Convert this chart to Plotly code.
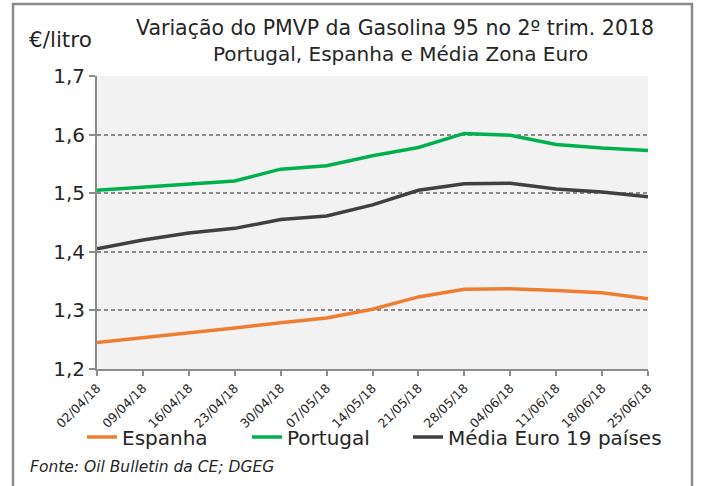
import plotly.graph_objects as go

dates = ["02/04/18", "09/04/18", "16/04/18", "23/04/18", "30/04/18", "07/05/18",
         "14/05/18", "21/05/18", "28/05/18", "04/06/18", "11/06/18", "18/06/18", "25/06/18"]
espanha = [1.245, 1.253, 1.261, 1.270, 1.279, 1.287, 1.302, 1.323, 1.336, 1.337, 1.334, 1.330, 1.320]
portugal = [1.505, 1.510, 1.515, 1.521, 1.541, 1.547, 1.564, 1.578, 1.602, 1.599, 1.583, 1.577, 1.573]
media = [1.405, 1.420, 1.432, 1.440, 1.455, 1.461, 1.480, 1.505, 1.516, 1.517, 1.507, 1.502, 1.494]
yticks = [1.2, 1.3, 1.4, 1.5, 1.6, 1.7]

FONT = "DejaVu Sans"
PW, PH = 551, 293

series = [("Espanha", espanha, "#ED7D31", "legend", 82),
          ("Portugal", portugal, "#00B050", "legend2", 247),
          ("Média Euro 19 países", media, "#404040", "legend3", 408)]

fig = go.Figure()
for name, vals, col, leg, _ in series:
    fig.add_trace(go.Scatter(x=list(range(len(dates))), y=vals, name=name, mode="lines",
                             line=dict(color=col, width=3.5), legend=leg))

legends = {}
for name, vals, col, leg, lx in series:
    legends[leg] = dict(orientation="h", x=(lx - 97) / PW, xanchor="left",
                        y=-(437 - 369) / PH, yanchor="middle",
                        font=dict(size=20, family=FONT, color="#262626"), itemwidth=30,
                        bgcolor="rgba(0,0,0,0)", borderwidth=0)

fig.update_layout(
    width=701, height=486,
    margin=dict(l=97, r=53, t=76, b=117),
    paper_bgcolor="white", plot_bgcolor="#F2F2F2",
    separators=", ",
    font=dict(family=FONT, color="#262626"),
    showlegend=True,
    **legends,
    xaxis=dict(range=[0, 12], tickmode="array", tickvals=list(range(len(dates))), ticktext=dates,
               tickangle=-45, tickfont=dict(size=12.5, family=FONT, color="#262626"),
               showgrid=False, showline=True, linecolor="#8C8C8C", linewidth=2,
               ticks="outside", ticklen=5, tickcolor="#8C8C8C", tickwidth=1.5, zeroline=False),
    yaxis=dict(range=[1.2, 1.7], tickvals=yticks, tickformat=".1f",
               tickfont=dict(size=20, family=FONT, color="#262626"),
               showgrid=True, gridcolor="#8C8C8C", griddash="4px,3px", gridwidth=1.5,
               showline=True, linecolor="#8C8C8C", linewidth=2,
               ticks="outside", ticklen=6, tickcolor="#8C8C8C", tickwidth=1.5, zeroline=False),
)

fig.add_annotation(text="Variação do PMVP da Gasolina 95 no 2º trim. 2018", xref="paper", yref="paper",
                   x=(395 - 97) / PW, y=1 + (76 - 28) / PH, xanchor="center", yanchor="middle",
                   showarrow=False, font=dict(size=20.5, family=FONT, color="#262626"))
fig.add_annotation(text="Portugal, Espanha e Média Zona Euro", xref="paper", yref="paper",
                   x=(400 - 97) / PW, y=1 + (76 - 54) / PH, xanchor="center", yanchor="middle",
                   showarrow=False, font=dict(size=20, family=FONT, color="#262626"))
fig.add_annotation(text="€/litro", xref="paper", yref="paper",
                   x=(27 - 97) / PW, y=1 + (76 - 40) / PH, xanchor="left", yanchor="middle",
                   showarrow=False, font=dict(size=21.5, family=FONT, color="#262626"))
fig.add_annotation(text="<i>Fonte: Oil Bulletin da CE; DGEG</i>", xref="paper", yref="paper",
                   x=(28 - 97) / PW, y=-(467 - 369) / PH, xanchor="left", yanchor="middle",
                   showarrow=False, font=dict(size=15.5, family=FONT, color="#262626"))

fig.add_shape(type="rect", xref="paper", yref="paper",
              x0=(13 - 97) / PW, x1=(692 - 97) / PW, y0=-(495 - 369) / PH, y1=1 + (76 - 4) / PH,
              line=dict(color="#8C8C8C", width=2.5), fillcolor="rgba(0,0,0,0)", layer="below")

fig.write_html("out.html", config={"displayModeBar": False},
               post_script="document.body.style.margin='0';")
